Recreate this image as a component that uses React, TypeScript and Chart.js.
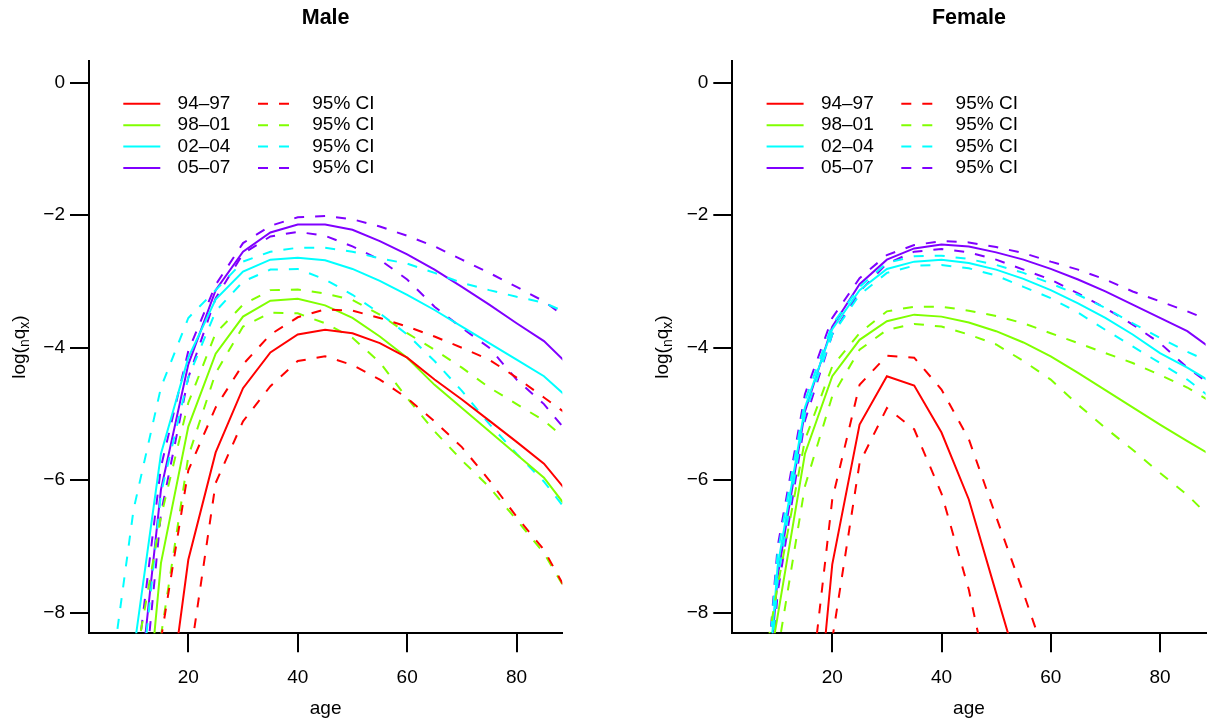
import React, { useEffect, useRef } from "react";
import { Chart, registerables } from "chart.js";

Chart.register(...registerables);

// ---------- data ----------
const ages = [5, 10, 15, 20, 25, 30, 35, 40, 45, 50, 55, 60, 65, 70, 75, 80, 85, 90];
const periods = ["94–97", "98–01", "02–04", "05–07"];
const ciLabel = "95% CI";
const colors = ["#FF0000", "#80FF00", "#00FFFF", "#8000FF"];
const xTicks = [20, 40, 60, 80];
const yTicks = [0, -2, -4, -6, -8];

// Male
const maleRate9497 = [null, null, -10.3, -7.2, -5.58, -4.61, -4.07, -3.8, -3.73, -3.78, -3.93, -4.15, -4.48, -4.78, -5.1, -5.42, -5.75, -6.25];
const maleUpper9497 = [null, null, -8.4, -5.85, -4.9, -4.25, -3.8, -3.54, -3.42, -3.44, -3.55, -3.68, -3.83, -4.0, -4.18, -4.45, -4.75, -5.05];
const maleLower9497 = [null, null, null, -8.86, -6.04, -5.11, -4.58, -4.2, -4.13, -4.26, -4.48, -4.76, -5.11, -5.5, -6.0, -6.55, -7.05, -7.8];

const maleRate9801 = [null, -11.7, -7.25, -5.19, -4.09, -3.53, -3.29, -3.26, -3.36, -3.55, -3.83, -4.15, -4.56, -4.91, -5.26, -5.61, -5.96, -6.5];
const maleUpper9801 = [null, -8.9, -6.55, -4.83, -3.78, -3.35, -3.13, -3.12, -3.18, -3.28, -3.5, -3.78, -4.03, -4.3, -4.6, -4.85, -5.1, -5.45];
const maleLower9801 = [null, null, -8.35, -5.64, -4.38, -3.68, -3.47, -3.48, -3.63, -3.85, -4.22, -4.76, -5.26, -5.7, -6.1, -6.6, -7.1, -7.8];

const maleRate0204 = [null, -8.6, -5.6, -4.15, -3.27, -2.85, -2.67, -2.64, -2.68, -2.81, -2.99, -3.2, -3.43, -3.68, -3.93, -4.18, -4.43, -4.8];
const maleUpper0204 = [-9.5, -6.44, -4.6, -3.55, -3.13, -2.7, -2.55, -2.49, -2.49, -2.55, -2.65, -2.73, -2.87, -3.02, -3.13, -3.23, -3.32, -3.5];
const maleLower0204 = [null, -10.2, -6.2, -4.45, -3.45, -3.0, -2.82, -2.81, -2.97, -3.2, -3.48, -3.8, -4.2, -4.65, -5.15, -5.6, -6.02, -6.55];

const maleRate0507 = [null, -10.0, -6.14, -4.25, -3.13, -2.55, -2.26, -2.14, -2.14, -2.22, -2.39, -2.59, -2.82, -3.08, -3.35, -3.63, -3.9, -4.3];
const maleUpper0507 = [null, -9.2, -5.8, -4.05, -3.05, -2.42, -2.16, -2.03, -2.01, -2.06, -2.17, -2.31, -2.47, -2.67, -2.87, -3.08, -3.3, -3.6];
const maleLower0507 = [null, -10.8, -6.5, -4.45, -3.25, -2.58, -2.32, -2.25, -2.31, -2.47, -2.67, -2.97, -3.38, -3.7, -4.0, -4.48, -4.85, -5.35];

// Female
const femaleRate9497 = [null, null, -11.6, -7.27, -5.16, -4.43, -4.57, -5.28, -6.29, -7.7, -9.1, null, null, null, null, null, null, null];
const femaleUpper9497 = [null, null, -9.9, -6.29, -4.56, -4.12, -4.15, -4.63, -5.38, -6.55, -7.7, -8.9, null, null, null, null, null, null];
const femaleLower9497 = [null, null, null, -8.4, -5.74, -4.91, -5.23, -6.2, -7.65, -9.6, null, null, null, null, null, null, null, null];

const femaleRate9801 = [-10.5, -8.05, -5.6, -4.43, -3.88, -3.6, -3.5, -3.53, -3.62, -3.75, -3.92, -4.13, -4.38, -4.64, -4.9, -5.16, -5.41, -5.65];
const femaleUpper9801 = [-10.0, -7.6, -5.39, -4.28, -3.78, -3.45, -3.38, -3.38, -3.44, -3.52, -3.63, -3.78, -3.93, -4.08, -4.23, -4.41, -4.6, -4.85];
const femaleLower9801 = [null, -8.6, -6.09, -4.73, -4.03, -3.73, -3.64, -3.68, -3.8, -3.95, -4.2, -4.48, -4.86, -5.21, -5.54, -5.89, -6.22, -6.63];

const femaleRate0204 = [-12.5, -7.3, -4.9, -3.72, -3.13, -2.81, -2.7, -2.67, -2.72, -2.82, -2.96, -3.13, -3.33, -3.55, -3.8, -4.08, -4.3, -4.55];
const femaleUpper0204 = [-12.0, -7.1, -4.8, -3.65, -3.08, -2.72, -2.62, -2.61, -2.66, -2.75, -2.87, -3.03, -3.2, -3.4, -3.63, -3.85, -4.06, -4.25];
const femaleLower0204 = [-13.0, -7.5, -5.0, -3.8, -3.2, -2.87, -2.76, -2.75, -2.8, -2.91, -3.08, -3.25, -3.47, -3.73, -3.98, -4.23, -4.48, -4.8];

const femaleRate0507 = [-12.5, -7.45, -4.96, -3.68, -3.04, -2.67, -2.5, -2.44, -2.47, -2.56, -2.67, -2.81, -2.97, -3.15, -3.35, -3.55, -3.75, -4.05];
const femaleUpper0507 = [-12.0, -7.0, -4.7, -3.55, -2.95, -2.6, -2.45, -2.39, -2.41, -2.48, -2.57, -2.7, -2.82, -2.97, -3.15, -3.3, -3.45, -3.62];
const femaleLower0507 = [-13.0, -7.7, -5.1, -3.8, -3.15, -2.73, -2.55, -2.51, -2.56, -2.67, -2.82, -2.97, -3.18, -3.4, -3.65, -3.93, -4.3, -4.6];

type Vals = (number | null)[];
type Series = { rate: Vals; upper: Vals; lower: Vals };

const maleSeries: Series[] = [
  { rate: maleRate9497, upper: maleUpper9497, lower: maleLower9497 },
  { rate: maleRate9801, upper: maleUpper9801, lower: maleLower9801 },
  { rate: maleRate0204, upper: maleUpper0204, lower: maleLower0204 },
  { rate: maleRate0507, upper: maleUpper0507, lower: maleLower0507 },
];
const femaleSeries: Series[] = [
  { rate: femaleRate9497, upper: femaleUpper9497, lower: femaleLower9497 },
  { rate: femaleRate9801, upper: femaleUpper9801, lower: femaleLower9801 },
  { rate: femaleRate0204, upper: femaleUpper0204, lower: femaleLower0204 },
  { rate: femaleRate0507, upper: femaleUpper0507, lower: femaleLower0507 },
];

// ---------- styling ----------
const FONT = '"Liberation Sans", Arial, Helvetica, sans-serif';
const FS = 19;
const DASH = [10, 11];
const H = 721;

type PanelProps = {
  title: string;
  series: Series[];
  left: number;
  width: number;
  axisWidth: number;
  padRight: number;
  xMin: number;
  xMax: number;
};

function Panel({ title, series, left, width, axisWidth, padRight, xMin, xMax }: PanelProps) {
  const ref = useRef<HTMLCanvasElement>(null);

  useEffect(() => {
    const canvas = ref.current;
    if (!canvas) return;
    const datasets: any[] = [];
    series.forEach((s, i) => {
      const mk = (vals: Vals, dashed: boolean, label: string) => ({
        label,
        data: ages.map((a, j) => ({ x: a, y: vals[j] })),
        borderColor: colors[i],
        backgroundColor: colors[i],
        borderWidth: 2,
        borderDash: dashed ? DASH : [],
        pointRadius: 0,
        pointHoverRadius: 0,
        tension: 0,
        fill: false,
        spanGaps: false,
        clip: 0,
      });
      datasets.push(mk(s.rate, false, periods[i]));
      datasets.push(mk(s.upper, true, ciLabel));
      datasets.push(mk(s.lower, true, ciLabel));
    });

    const legendPlugin = {
      id: "rLegend",
      afterDatasetsDraw(chart: any) {
        const ctx = chart.ctx;
        const ca = chart.chartArea;
        ctx.save();
        ctx.font = `${FS}px ${FONT}`;
        ctx.textBaseline = "middle";
        ctx.textAlign = "left";
        ctx.lineWidth = 2;
        periods.forEach((p, i) => {
          const y = 103.7 + i * 21.45;
          ctx.strokeStyle = colors[i];
          ctx.setLineDash([]);
          ctx.beginPath();
          ctx.moveTo(ca.left + 34.3, y);
          ctx.lineTo(ca.left + 71.3, y);
          ctx.stroke();
          ctx.setLineDash(DASH);
          ctx.beginPath();
          ctx.moveTo(ca.left + 169, y);
          ctx.lineTo(ca.left + 206, y);
          ctx.stroke();
          ctx.setLineDash([]);
          ctx.fillStyle = "#000";
          ctx.fillText(p, ca.left + 88.6, y);
          ctx.fillText(ciLabel, ca.left + 223.3, y);
        });
        ctx.restore();
      },
    };

    const yTitlePlugin = {
      id: "yTitle",
      afterDraw(chart: any) {
        const ctx = chart.ctx;
        const ca = chart.chartArea;
        const cy = (ca.top + ca.bottom) / 2;
        const big = `${FS}px ${FONT}`;
        const small = `${Math.round(FS * 0.72)}px ${FONT}`;
        const parts: [string, string, number][] = [
          ["log(", big, 0],
          ["n", small, 4],
          ["q", big, 0],
          ["x", small, 4],
          [")", big, 0],
        ];
        ctx.save();
        let total = 0;
        parts.forEach(([t, f]) => {
          ctx.font = f;
          total += ctx.measureText(t).width;
        });
        ctx.translate(24.5, cy);
        ctx.rotate(-Math.PI / 2);
        ctx.fillStyle = "#000";
        ctx.textBaseline = "alphabetic";
        ctx.textAlign = "left";
        let x = -total / 2;
        parts.forEach(([t, f, dy]) => {
          ctx.font = f;
          ctx.fillText(t, x, dy);
          x += ctx.measureText(t).width;
        });
        ctx.restore();
      },
    };

    const chart = new Chart(canvas, {
      type: "line",
      data: { datasets },
      options: {
        animation: false,
        responsive: false,
        maintainAspectRatio: false,
        devicePixelRatio: 1,
        events: [],
        layout: { padding: { left: 0, right: padRight, top: 0, bottom: 0 } },
        plugins: {
          legend: { display: false },
          tooltip: { enabled: false },
          title: {
            display: true,
            text: title,
            color: "#000",
            fullSize: false,
            font: { family: FONT, size: 21.5, weight: "bold" },
            padding: { top: 5.5, bottom: 29.6 },
          },
        },
        scales: {
          x: {
            type: "linear",
            min: xMin,
            max: xMax,
            afterBuildTicks: (s: any) => {
              s.ticks = xTicks.map((v) => ({ value: v }));
            },
            afterFit: (s: any) => {
              s.height = 87.7;
            },
            grid: {
              display: true,
              drawOnChartArea: false,
              drawTicks: true,
              tickLength: 19,
              color: "#000",
              lineWidth: 2,
            },
            border: { display: true, color: "#000", width: 2 },
            ticks: {
              color: "#000",
              font: { family: FONT, size: FS },
              padding: 14.0,
              maxRotation: 0,
              autoSkip: false,
              callback: (v: any) => String(v),
            },
            title: {
              display: true,
              text: "age",
              color: "#000",
              font: { family: FONT, size: FS },
              padding: { top: 0, bottom: 1.3 },
            },
          },
          y: {
            type: "linear",
            min: -8.31,
            max: 0.33,
            afterBuildTicks: (s: any) => {
              s.ticks = yTicks.map((v) => ({ value: v }));
            },
            afterFit: (s: any) => {
              s.width = axisWidth;
            },
            grid: {
              display: true,
              drawOnChartArea: false,
              drawTicks: true,
              tickLength: 19,
              color: "#000",
              lineWidth: 2,
            },
            border: { display: true, color: "#000", width: 2 },
            ticks: {
              color: "#000",
              font: { family: FONT, size: FS },
              padding: 5,
              autoSkip: false,
              callback: (v: any) => (v < 0 ? "\u2212" + Math.abs(v) : String(v)),
            },
          },
        },
      } as any,
      plugins: [legendPlugin, yTitlePlugin],
    });
    return () => chart.destroy();
  }, []);

  return (
    <canvas
      ref={ref}
      width={width}
      height={H}
      style={{ position: "absolute", left, top: 0, width, height: H, display: "block" }}
    />
  );
}

export default function App() {
  return (
    <div
      style={{
        position: "fixed",
        left: 0,
        top: 0,
        width: 1207,
        height: H,
        overflow: "hidden",
        background: "#fff",
      }}
    >
      <Panel title="Male" series={maleSeries} left={0} width={643} axisWidth={89} padRight={80.7} xMin={1.85} xMax={88.35} />
      <Panel title="Female" series={femaleSeries} left={643} width={564} axisWidth={89.3} padRight={1.4} xMin={1.7} xMax={88.35} />
    </div>
  );
}
